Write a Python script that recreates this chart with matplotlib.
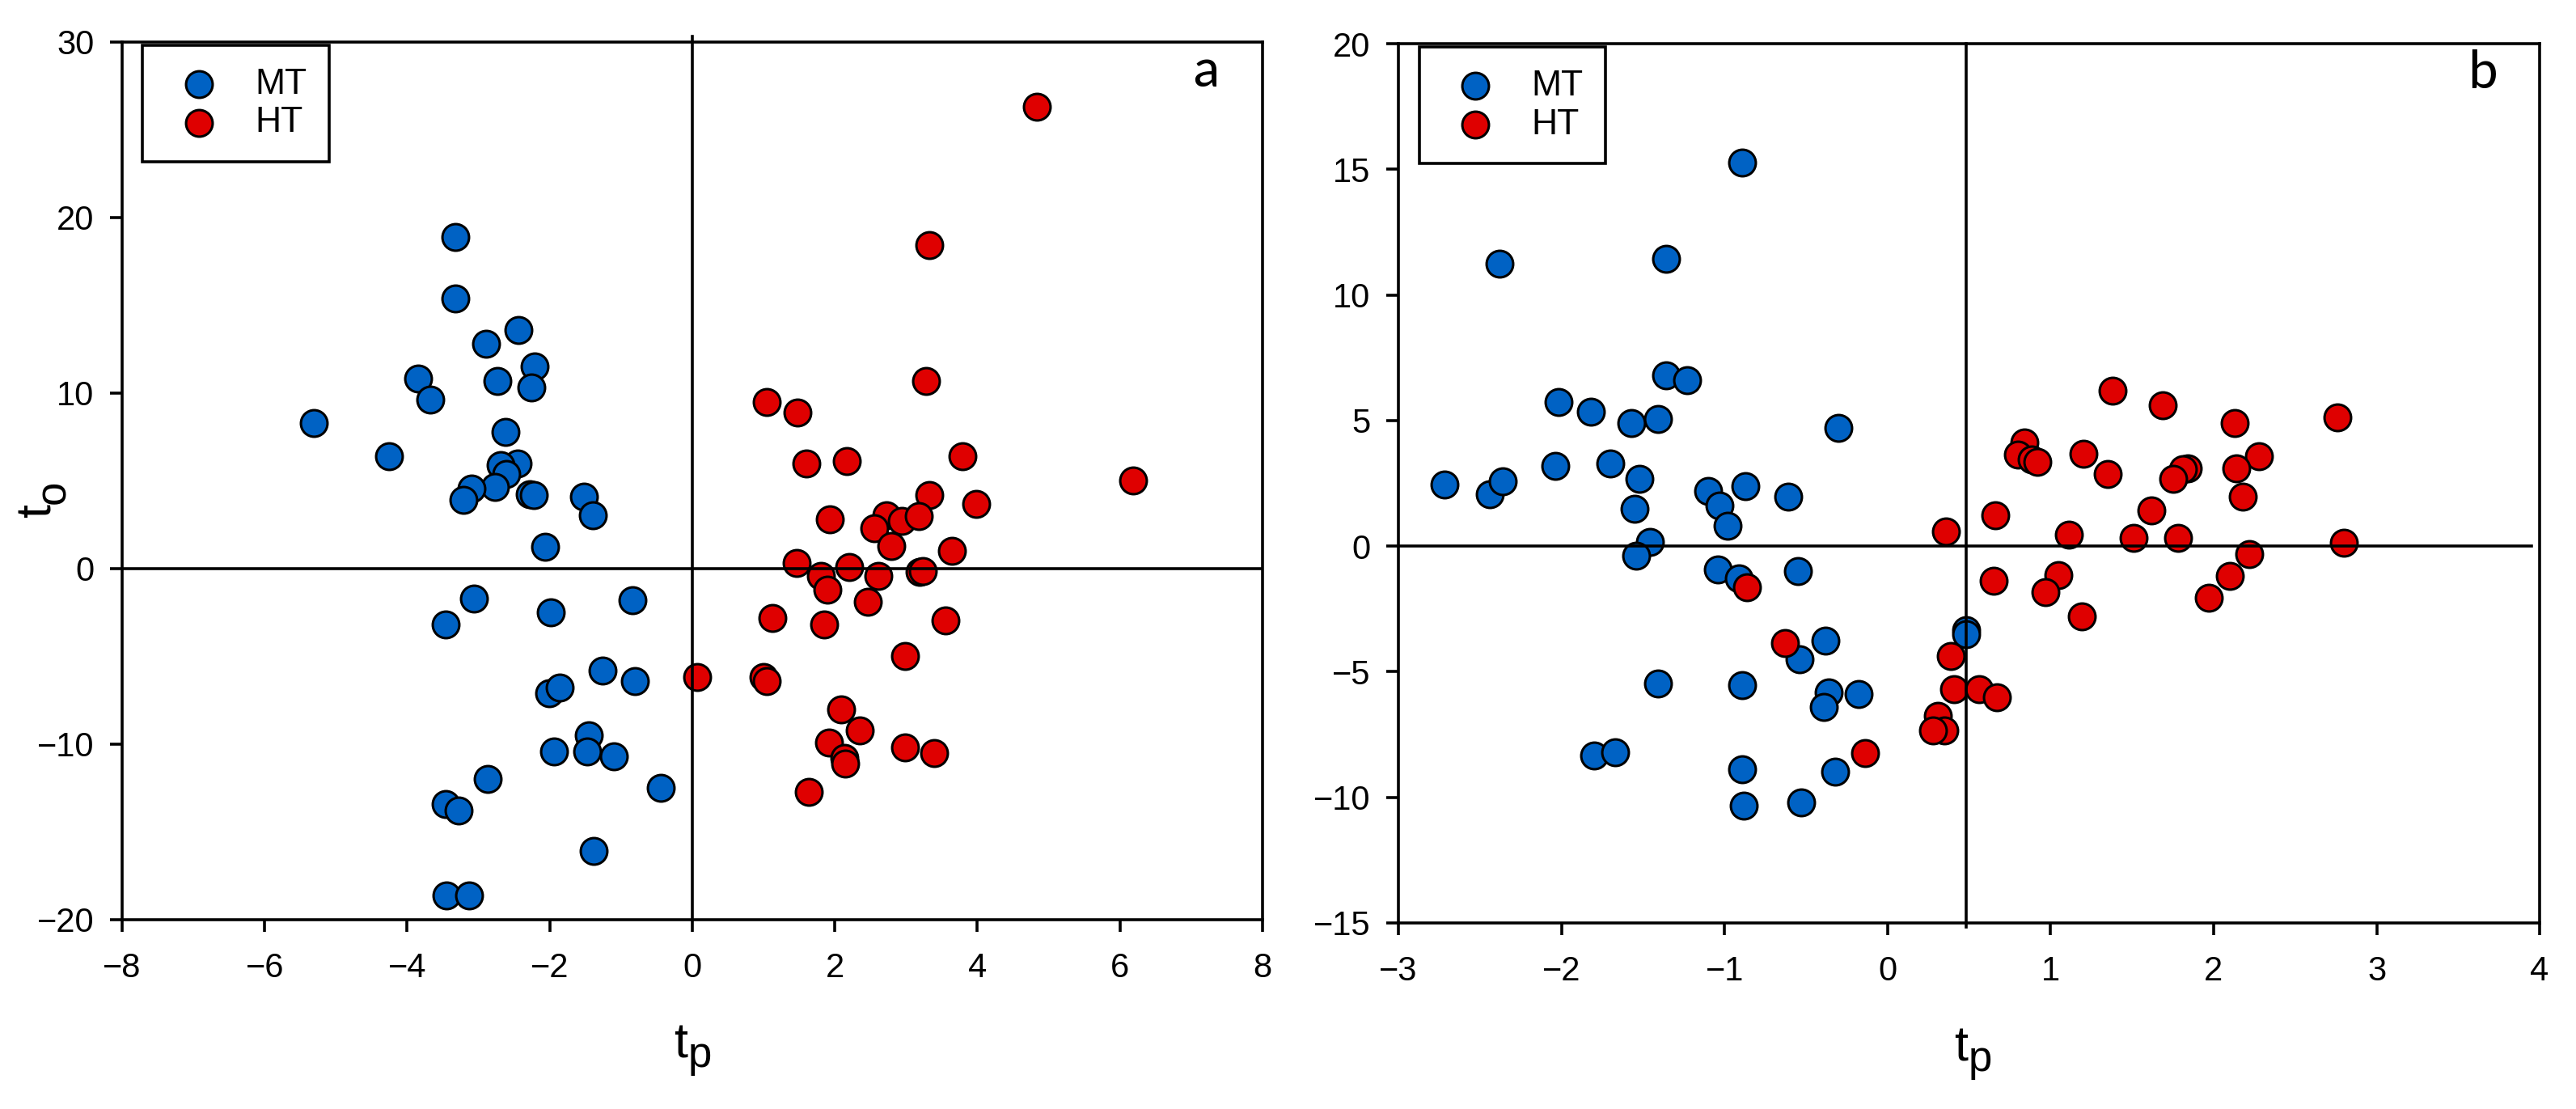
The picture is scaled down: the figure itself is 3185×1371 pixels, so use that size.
import numpy as np
import matplotlib
matplotlib.use('Agg')
import matplotlib.pyplot as plt

plt.rcParams['font.family'] = ['Liberation Sans', 'DejaVu Sans']
plt.rcParams['axes.unicode_minus'] = True

# panel a: scores (tp, to)
a_mt_tp = [-3.33, -3.33, -2.44, -2.89, -2.21, -3.85, -2.73, -2.26, -3.68, -5.31,
           -2.62, -4.25, -2.45, -2.69, -2.61, -2.77, -3.10, -2.28, -2.22, -3.21,
           -1.52, -1.40, -2.06, -3.06, -0.84, -3.46, -1.99, -1.26, -0.81, -2.01,
           -1.86, -1.45, -1.94, -1.47, -1.10, -0.44, -2.87, -3.46, -3.28, -1.38,
           -3.45, -3.13]
a_mt_to = [18.9, 15.4, 13.6, 12.8, 11.5, 10.8, 10.7, 10.3, 9.6, 8.3,
           7.8, 6.4, 6.0, 5.9, 5.4, 4.65, 4.55, 4.25, 4.2, 3.9,
           4.1, 3.05, 1.25, -1.7, -1.8, -3.2, -2.5, -5.8, -6.4, -7.1,
           -6.8, -9.5, -10.4, -10.4, -10.7, -12.5, -12.0, -13.4, -13.8, -16.1,
           -18.6, -18.6]
a_ht_tp = [4.84, 3.32, 3.28, 1.05, 1.47, 1.60, 2.17, 3.79, 6.18, 3.33,
           3.98, 1.93, 2.72, 2.94, 3.18, 2.55, 2.79, 3.64, 1.46, 2.20,
           1.81, 2.61, 3.19, 3.24, 1.89, 2.46, 1.12, 1.85, 3.55, 2.98,
           0.07, 1.00, 1.05, 2.09, 2.35, 1.92, 2.13, 2.14, 2.99, 3.39,
           1.64]
a_ht_to = [26.3, 18.4, 10.7, 9.5, 8.9, 6.0, 6.1, 6.4, 5.0, 4.2,
           3.7, 2.8, 3.05, 2.7, 3.0, 2.3, 1.3, 1.0, 0.3, 0.1,
           -0.4, -0.4, -0.2, -0.15, -1.2, -1.9, -2.8, -3.2, -2.95, -5.0,
           -6.2, -6.2, -6.4, -8.0, -9.2, -9.9, -10.8, -11.1, -10.2, -10.5,
           -12.7]

# panel b
b_mt_tp = [-0.89, -2.38, -1.36, -1.36, -1.23, -2.02, -1.82, -1.57, -1.41, -0.30,
           -2.72, -2.44, -2.36, -2.04, -1.70, -1.52, -1.55, -1.10, -1.03, -0.87,
           -0.61, -0.98, -1.46, -1.54, -1.04, -0.91, -0.55, 0.48, 0.48, -0.38,
           -0.54, -1.41, -0.89, -0.36, -0.18, -0.39, -1.80, -1.67, -0.89, -0.32,
           -0.88, -0.53]
b_mt_to = [15.26, 11.23, 11.42, 6.80, 6.60, 5.73, 5.34, 4.91, 5.05, 4.70,
           2.46, 2.07, 2.58, 3.20, 3.28, 2.68, 1.50, 2.19, 1.60, 2.39,
           1.96, 0.82, 0.18, -0.37, -0.92, -1.28, -1.00, -3.33, -3.50, -3.75,
           -4.51, -5.47, -5.55, -5.83, -5.89, -6.40, -8.34, -8.20, -8.88, -8.99,
           -10.32, -10.20]
b_ht_tp = [1.38, 1.69, 2.13, 2.76, 0.84, 0.80, 0.885, 0.92, 1.20, 1.35,
           2.28, 2.14, 1.84, 1.81, 1.75, 2.18, 0.36, 0.66, 1.11, 1.51,
           1.78, 1.62, 2.80, 2.22, 2.10, 1.97, 1.05, 0.97, 0.65, 1.19,
           -0.86, -0.63, 0.39, 0.41, 0.56, 0.67, 0.31, 0.35, 0.28, -0.14]
b_ht_to = [6.20, 5.61, 4.91, 5.11, 4.11, 3.64, 3.46, 3.34, 3.68, 2.87,
           3.59, 3.11, 3.08, 3.05, 2.68, 1.98, 0.57, 1.24, 0.44, 0.34,
           0.34, 1.42, 0.12, -0.31, -1.18, -2.05, -1.15, -1.82, -1.37, -2.81,
           -1.64, -3.86, -4.36, -5.71, -5.71, -6.03, -6.76, -7.34, -7.34, -8.23]

blue = '#0062C4'
red = '#DF0000'
lw = 1.3

fig = plt.figure(figsize=(15.925, 6.855), dpi=200)
ax1 = fig.add_axes([0.0474, 0.1707, 0.4427, 0.7916])
ax2 = fig.add_axes([0.5429, 0.1678, 0.4430, 0.7928])


def draw_panel(ax, mt_x, mt_y, ht_x, ht_y, letter):
    ax.scatter(mt_x, mt_y, s=140, c=blue, edgecolors='black', linewidths=1.1,
               label='MT', zorder=2)
    ax.scatter(ht_x, ht_y, s=140, c=red, edgecolors='black', linewidths=1.1,
               label='HT', zorder=2)
    for sp in ax.spines.values():
        sp.set_linewidth(lw)
    ax.tick_params(which='both', direction='out', length=5.5, width=lw,
                   labelsize=15, top=False, right=False)
    ax.tick_params(axis='x', pad=9)
    ax.tick_params(axis='y', pad=7)
    leg = ax.legend(loc='upper left', bbox_to_anchor=(0.018, 0.996),
                    borderaxespad=0, fontsize=16, scatterpoints=1,
                    fancybox=False, framealpha=1, edgecolor='black',
                    borderpad=0.62, handlelength=1.9, handletextpad=0.6,
                    labelspacing=0.15)
    leg.get_frame().set_linewidth(lw)
    ax.text(0.95, 0.966, letter, transform=ax.transAxes, fontsize=25,
            ha='center', va='center', family=['Carlito', 'Open Sans', 'DejaVu Sans'])


def tp_label(ax, x, y):
    # "t" with a lowered, slightly smaller "p"
    ax.text(x, y, 't', transform=ax.transAxes, fontsize=22, ha='right',
            va='baseline', clip_on=False)
    ax.text(x, y - 0.011, 'p', transform=ax.transAxes, fontsize=19, ha='left',
            va='baseline', clip_on=False)


# panel a
draw_panel(ax1, a_mt_tp, a_mt_to, a_ht_tp, a_ht_to, 'a')
ax1.set_xlim(-8, 8)
ax1.set_ylim(-20, 30)
ax1.set_xticks(np.arange(-8, 9, 2))
ax1.set_yticks(np.arange(-20, 31, 10))
ax1.axhline(0, color='black', lw=lw, zorder=3)
ax1.axvline(0, ymin=0, ymax=1.006, color='black', lw=lw, zorder=3, clip_on=False)
tp_label(ax1, 0.496, -0.157)
ax1.text(-0.0624, 0.458, 't', transform=ax1.transAxes, fontsize=22, rotation=90,
         rotation_mode='anchor', ha='left', va='baseline', clip_on=False)
ax1.text(-0.0505, 0.474, 'o', transform=ax1.transAxes, fontsize=19, rotation=90,
         rotation_mode='anchor', ha='left', va='baseline', clip_on=False)

# panel b
draw_panel(ax2, b_mt_tp, b_mt_to, b_ht_tp, b_ht_to, 'b')
ax2.set_xlim(-3, 4)
ax2.set_ylim(-15, 20)
ax2.set_xticks(np.arange(-3, 5, 1))
ax2.set_yticks(np.arange(-15, 21, 5))
ax2.axhline(0, xmin=0, xmax=0.993, color='black', lw=lw, zorder=3)
ax2.axvline(0.48, ymin=-0.005, ymax=1, color='black', lw=lw, zorder=3, clip_on=False)
tp_label(ax2, 0.499, -0.157)

fig.savefig('out.png', dpi=200, facecolor='white')
